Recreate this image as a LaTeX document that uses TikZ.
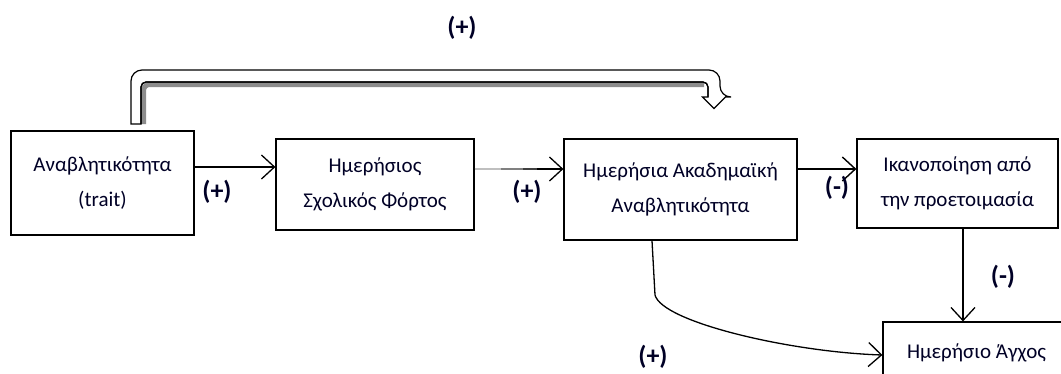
\documentclass[tikz,border=0pt]{standalone}
\usepackage{fontspec}
\setmainfont{Carlito}
\usetikzlibrary{arrows.meta,calc}
\tikzset{
  box/.style={draw=black, line width=1.2pt, align=center, inner sep=0pt,
    font=\fontsize{21}{35}\selectfont, text=black!85!blue},
  sign/.style={font=\bfseries\fontsize{26}{30}\selectfont, text=black!85!blue},
  conn/.style={line width=1.3pt, -{Straight Barb[length=13pt,width=24pt,line width=1.3pt]}},
  thickconn/.style={line width=2.6pt, -{Straight Barb[length=13pt,width=24pt,line width=1.4pt]}}
}
\begin{document}
\begin{tikzpicture}[x=1pt,y=-1pt]
\clip (0,0) rectangle (1061,373);
\fill[white] (0,0) rectangle (1061,373);

\node[box, minimum width=183pt, minimum height=104pt] (b1) at (102.5,183) {Αναβλητικότητα\\(trait)};
\node[box, minimum width=198pt, minimum height=91pt] (b2) at (375,184.5) {Ημερήσιος\\Σχολικός Φόρτος};
\node[box, minimum width=233pt, minimum height=101pt] (b3) at (680.5,189.5) {Ημερήσια Ακαδημαϊκή\\Αναβλητικότητα};
\node[box, minimum width=201pt, minimum height=89pt] (b4) at (957.5,183.5) {\raisebox{-5pt}{\parbox{195pt}{\centering Ικανοποίηση από\\την προετοιμασία}}};
\node[box, minimum width=187pt, minimum height=62pt] (b5) at (976.5,353) {Ημερήσιο Άγχος};

% arrows between boxes
\draw[conn] ([yshift=16pt]b1.east) -- ([yshift=17.5pt]b2.west);
\coordinate (a2s) at ([yshift=15.5pt]b2.east);
\coordinate (a2e) at ([yshift=20.5pt]b3.west);
\draw[conn, line width=1.8pt] (a2s) -- (a2e);
\draw[line width=1.9pt, black!25] (a2s) -- ($(a2s)!0.3!(a2e)$);
\draw[line width=1.9pt, black!50] ($(a2s)!0.3!(a2e)$) -- ($(a2s)!0.55!(a2e)$);
\draw[line width=1.9pt, black!75] ($(a2s)!0.55!(a2e)$) -- ($(a2s)!0.7!(a2e)$);
\draw[thickconn] ([yshift=20.5pt]b3.east) -- ([yshift=14.5pt]b4.west);
\draw[conn] ([xshift=5.5pt]b4.south) -- ([xshift=-13.5pt]b5.north);
\draw[conn] ([xshift=-28.5pt]b3.south) -- (655,295) .. controls (662,322) and (790,352) .. ([yshift=-2pt]b5.west);

% hollow block arrow
\draw[line width=5pt, black!45, rounded corners=6pt] (143.5,124) -- (143.5,84.5) -- (704,84.5);
\draw[line width=1.2pt, fill=white, rounded corners=11pt]
  (131,124) -- (131,70) -- (720,70) -- (720,97) [sharp corners] -- (725.5,97) -- (714,108.5) -- (702.5,97) -- (708,97)
  [rounded corners=5pt] -- (708,82) -- (141,82) [sharp corners] -- (141,124) -- cycle;
\draw[line width=1.2pt, rounded corners=5pt] (708,97) -- (708,82) -- (141,82) -- (141,124);

% signs
\node[sign] (s0) at (462,28) {(+)};
\node[sign] (s1) at (217,192) {(+)};
\node[sign] (s2) at (527,192) {(+)};
\node[sign] (s3) at (837,188) {(-)};
\node[sign] (s4) at (1003,277) {(-)};
\node[sign] (s5) at (653,357) {(+)};
\end{tikzpicture}
\end{document}
